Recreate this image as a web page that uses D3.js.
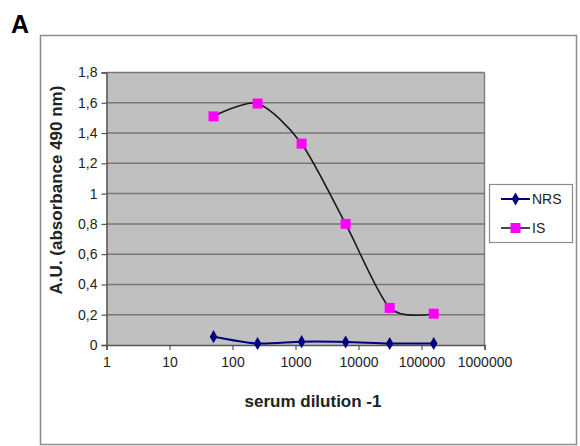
<!DOCTYPE html>
<html>
<head>
<meta charset="utf-8">
<script src="https://cdn.jsdelivr.net/npm/d3@7"></script>
<style>
  body { margin: 0; background: #fff; }
  text { font-family: "Liberation Sans", Arial, sans-serif; }
</style>
</head>
<body>
<div id="chart"></div>
<script>
var dilutions = [50, 250, 1250, 6250, 31250, 156250];
var nrsValues = [0.055, 0.01, 0.022, 0.02, 0.01, 0.01];
var isValues = [1.51, 1.595, 1.33, 0.80, 0.245, 0.207];
var yTicks = [0, 0.2, 0.4, 0.6, 0.8, 1, 1.2, 1.4, 1.6, 1.8];
var xTicks = [1, 10, 100, 1000, 10000, 100000, 1000000];

var svgWidth = 580;
var svgHeight = 446;

var plot = { left: 106.5, top: 72.5, right: 484.5, bottom: 345 };

var svg = d3.select("#chart").append("svg")
    .attr("width", svgWidth)
    .attr("height", svgHeight);

// panel letter
svg.append("text")
  .attr("x", 11)
  .attr("y", 33)
  .style("font-size", "25px")
  .style("font-weight", "bold")
  .text("A");

// outer chart frame
svg.append("rect")
  .attr("x", 40.5)
  .attr("y", 35.5)
  .attr("width", 536)
  .attr("height", 409)
  .attr("fill", "none")
  .attr("stroke", "#8c8c8c")
  .attr("stroke-width", 1.5);

var xScale = d3.scaleLog()
  .domain([1, 1000000])
  .range([plot.left, plot.right]);

var yScale = d3.scaleLinear()
  .domain([0, 1.8])
  .range([plot.bottom, plot.top]);

// plot background
svg.append("rect")
  .attr("x", plot.left)
  .attr("y", plot.top)
  .attr("width", plot.right - plot.left)
  .attr("height", plot.bottom - plot.top)
  .attr("fill", "#c0c0c0");

// gridlines
svg.append("g")
  .selectAll("line")
  .data(yTicks.slice(1))
  .enter()
  .append("line")
    .attr("x1", plot.left)
    .attr("x2", plot.right)
    .attr("y1", function(d) { return yScale(d); })
    .attr("y2", function(d) { return yScale(d); })
    .attr("stroke", "#777")
    .attr("stroke-width", 1.5);

// right border of plot area
svg.append("line")
  .attr("x1", plot.right).attr("x2", plot.right)
  .attr("y1", plot.top).attr("y2", plot.bottom)
  .attr("stroke", "#808080")
  .attr("stroke-width", 1.5);

var fmt = function(d) { return String(d).replace(".", ","); };

var yAxis = d3.axisLeft(yScale)
  .tickValues(yTicks)
  .tickFormat(fmt)
  .tickSize(5)
  .tickPadding(4);

var xAxis = d3.axisBottom(xScale)
  .tickValues(xTicks)
  .tickFormat(d3.format("d"))
  .tickSize(5)
  .tickPadding(7);

var yG = svg.append("g")
  .attr("transform", `translate(${plot.left}, 0)`)
  .call(yAxis);

var xG = svg.append("g")
  .attr("transform", `translate(0, ${plot.bottom})`)
  .call(xAxis);

[yG, xG].forEach(function(g) {
  g.select(".domain").attr("stroke", "#555").attr("stroke-width", 1.5);
  g.selectAll(".tick line").attr("stroke", "#555").attr("stroke-width", 1.2);
  g.selectAll(".tick text")
    .style("font-size", "14px")
    .style("font-family", "'Liberation Sans', Arial, sans-serif")
    .attr("fill", "#222");
});

// axis titles
svg.append("text")
  .attr("transform", "translate(62, 190) rotate(-90)")
  .attr("text-anchor", "middle")
  .style("font-size", "17px")
  .style("font-weight", "bold")
  .attr("fill", "#222")
  .text("A.U. (absorbance 490 nm)");

svg.append("text")
  .attr("x", 313)
  .attr("y", 407)
  .attr("text-anchor", "middle")
  .style("font-size", "17px")
  .style("font-weight", "bold")
  .attr("fill", "#222")
  .text("serum dilution -1");

var nrsData = dilutions.map(function(d, i) { return [d, nrsValues[i]]; });
var isData = dilutions.map(function(d, i) { return [d, isValues[i]]; });

var line = d3.line()
  .x(function(d) { return xScale(d[0]); })
  .y(function(d) { return yScale(d[1]); })
  .curve(d3.curveCardinal.tension(0.2));

svg.append("path")
  .datum(nrsData)
  .attr("d", line)
  .attr("fill", "none")
  .attr("stroke", "#000080")
  .attr("stroke-width", 2);

svg.append("path")
  .datum(isData)
  .attr("d", line)
  .attr("fill", "none")
  .attr("stroke", "#1a1a1a")
  .attr("stroke-width", 1.6);

var diamond = d3.symbol().type(d3.symbolDiamond).size(50);

svg.append("g")
  .selectAll("path")
  .data(nrsData)
  .enter()
  .append("path")
    .attr("d", diamond)
    .attr("transform", function(d) { return `translate(${xScale(d[0])}, ${yScale(d[1])})`; })
    .attr("fill", "#000080");

svg.append("g")
  .selectAll("rect")
  .data(isData)
  .enter()
  .append("rect")
    .attr("x", function(d) { return xScale(d[0]) - 5; })
    .attr("y", function(d) { return yScale(d[1]) - 5; })
    .attr("width", 10)
    .attr("height", 10)
    .attr("fill", "#ff00ff");

// legend
var legend = svg.append("g");
legend.append("rect")
  .attr("x", 489.5)
  .attr("y", 184.5)
  .attr("width", 83)
  .attr("height", 58)
  .attr("fill", "#fff")
  .attr("stroke", "#8c8c8c")
  .attr("stroke-width", 1.2);

legend.append("line")
  .attr("x1", 501).attr("x2", 530).attr("y1", 199).attr("y2", 199)
  .attr("stroke", "#000080").attr("stroke-width", 2);
legend.append("path")
  .attr("d", diamond)
  .attr("transform", "translate(515.5, 199)")
  .attr("fill", "#000080");
legend.append("text")
  .attr("x", 532).attr("y", 204)
  .style("font-size", "14px")
  .attr("fill", "#222")
  .text("NRS");

legend.append("line")
  .attr("x1", 501).attr("x2", 530).attr("y1", 228).attr("y2", 228)
  .attr("stroke", "#1a1a1a").attr("stroke-width", 1.6);
legend.append("rect")
  .attr("x", 510.5).attr("y", 223).attr("width", 10).attr("height", 10)
  .attr("fill", "#ff00ff");
legend.append("text")
  .attr("x", 532).attr("y", 233)
  .style("font-size", "14px")
  .attr("fill", "#222")
  .text("IS");
</script>
</body>
</html>
